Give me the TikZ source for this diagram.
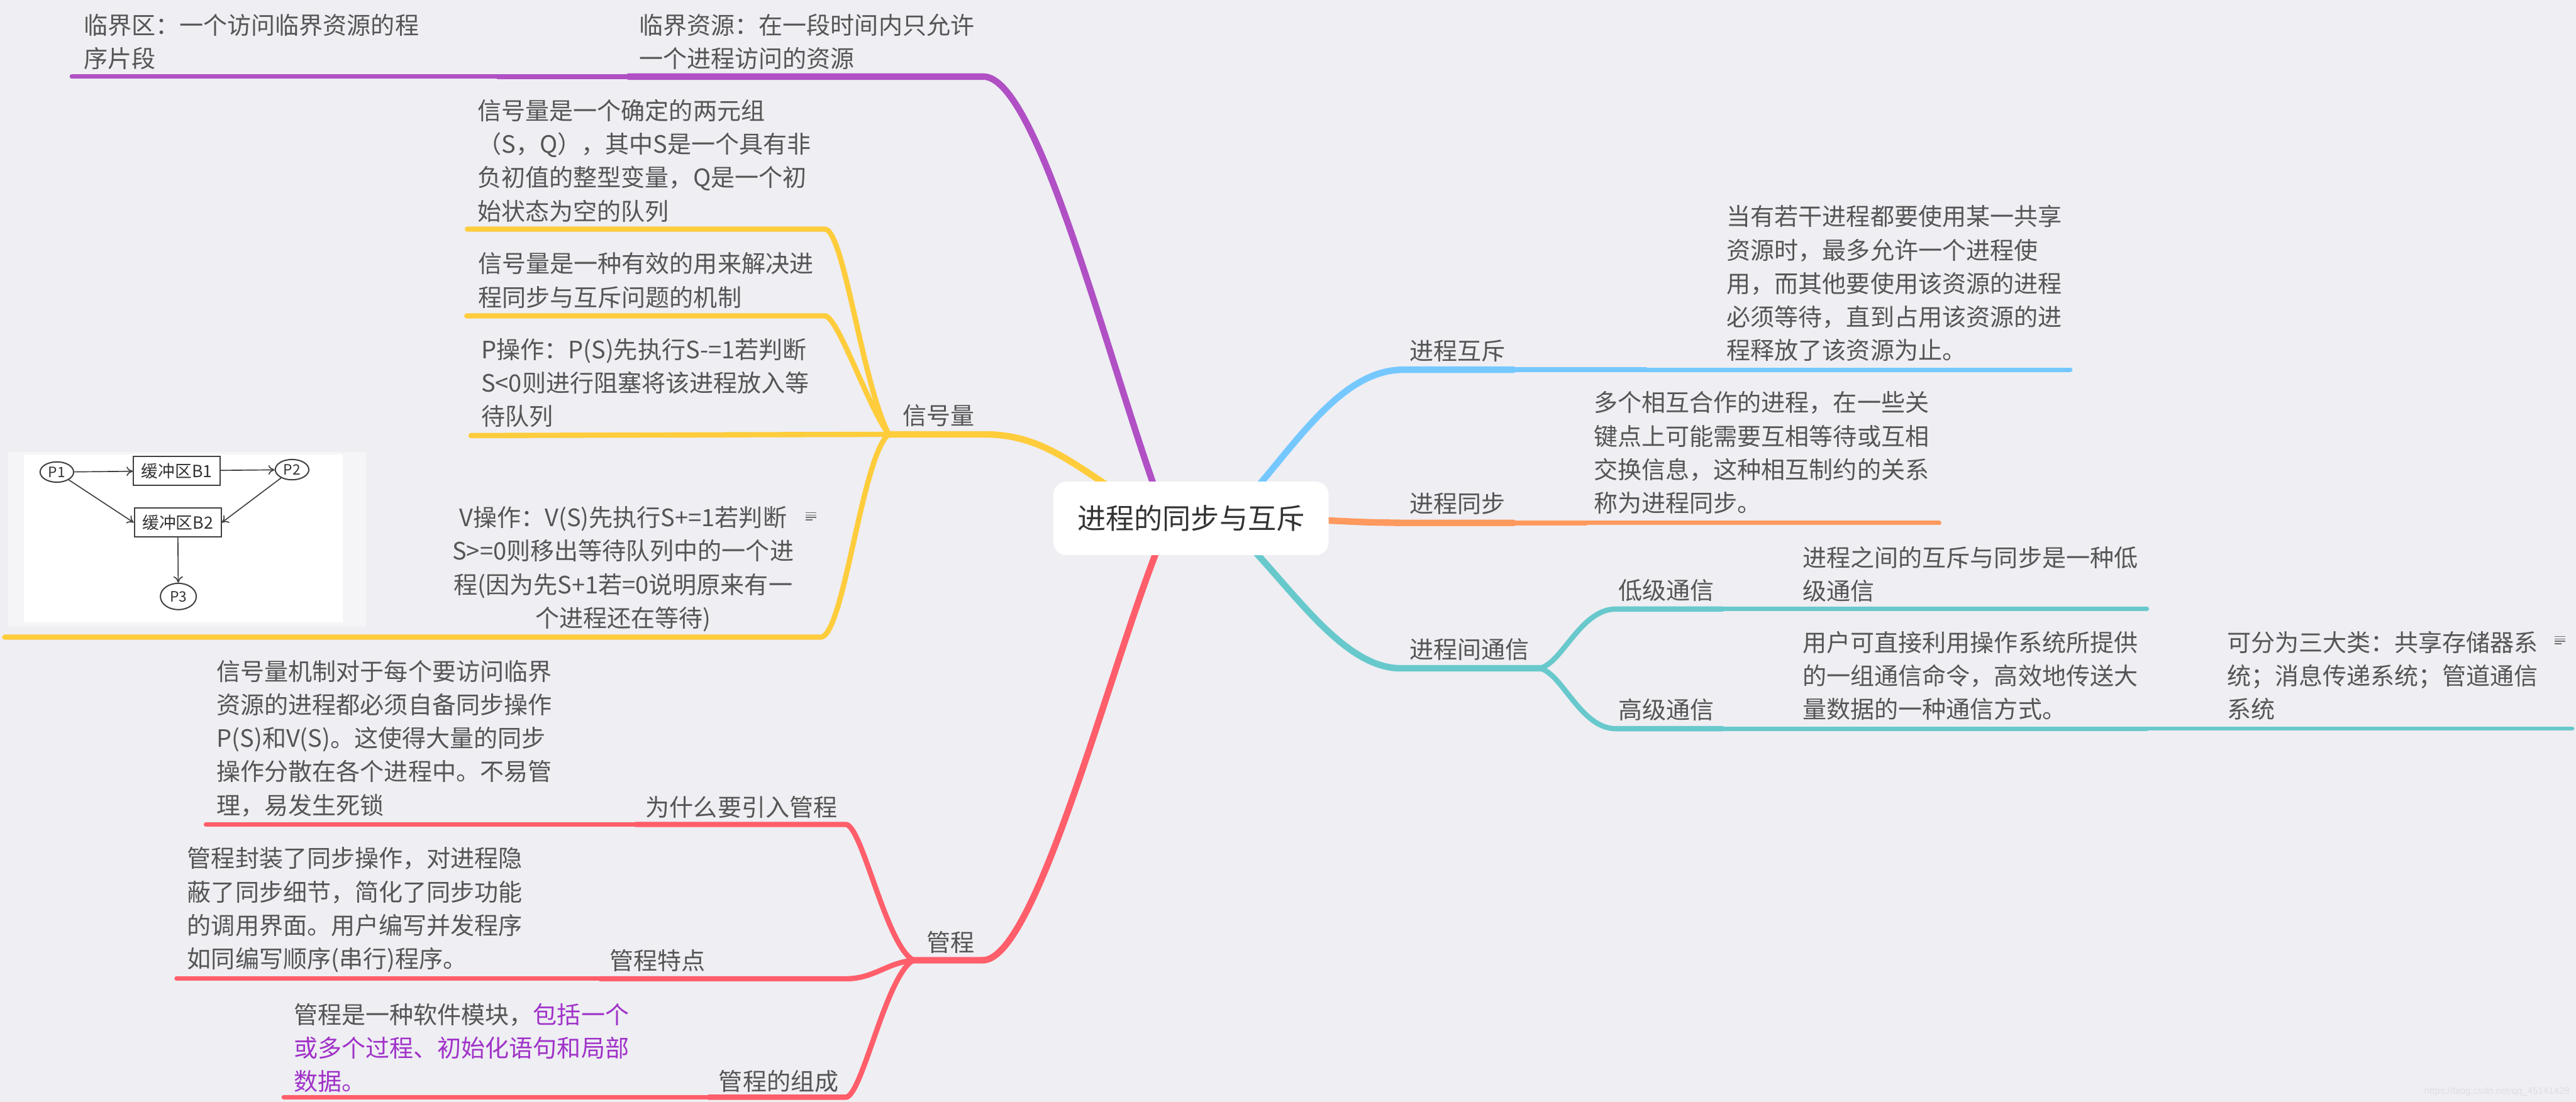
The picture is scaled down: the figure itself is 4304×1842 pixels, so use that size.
\documentclass[tikz,border=0pt]{standalone}
\usepackage{fontspec}
\setmainfont{Noto Sans CJK SC}
\newfontfamily\wmfont{Liberation Sans}
\usetikzlibrary{arrows.meta,shapes.geometric}
\definecolor{bgc}{RGB}{238,238,243}
\definecolor{cpur}{RGB}{176,80,196}
\definecolor{cyel}{RGB}{255,204,60}
\definecolor{cred}{RGB}{255,94,106}
\definecolor{cblu}{RGB}{117,200,255}
\definecolor{cora}{RGB}{255,153,94}
\definecolor{ctea}{RGB}{104,201,204}
\definecolor{ctxt}{RGB}{85,85,85}
\definecolor{croot}{RGB}{51,51,51}
\definecolor{cptx}{RGB}{160,50,200}
\definecolor{frm}{RGB}{245,245,247}
\definecolor{wmc}{RGB}{222,222,228}
\definecolor{notec}{RGB}{110,110,110}
\newcommand\mmfont{\fontsize{11.38pt}{15.93pt}\selectfont}
\tikzset{
  leaf/.style={anchor=base west, inner sep=0pt, outer sep=0pt, text=ctxt, font=\mmfont, align=left, text width=7cm},
  rootbox/.style={fill=white, rounded corners=0.22cm, minimum width=4.6cm, minimum height=1.23cm, inner sep=0pt, text=croot, font=\fontsize{13.5pt}{16pt}\selectfont},
  lvA/.style={line width=3.1pt, line cap=round},
  lvB/.style={line width=2.5pt, line cap=round},
  lvC/.style={line width=2.1pt, line cap=round},
  lvD/.style={line width=1.8pt, line cap=round},
  pnode/.style={ellipse, draw=black!75, line width=0.6pt, minimum width=0.56cm, minimum height=0.34cm, inner sep=0pt, text=black!80, font=\fontsize{6.8pt}{7pt}\selectfont},
  bnode/.style={rectangle, draw=black!75, line width=0.6pt, minimum width=1.45cm, minimum height=0.48cm, inner sep=0pt, text=black!80, font=\fontsize{8pt}{9pt}\selectfont},
  imgarrow/.style={draw=black!75, line width=0.5pt, -{To[length=3pt,width=4.5pt]}},
  notel/.style={notec, line width=0.45pt}
}
\begin{document}
\begin{tikzpicture}[x=0.1mm,y=-0.1mm]
\useasboundingbox (0,0) rectangle (4304,1842);
\fill[bgc] (0,0) rectangle (4304,1842);

% ---------- coordinates ----------
\coordinate (pA) at (1928,812);
\coordinate (pB) at (1643,128);
\coordinate (pC) at (1050,128);
\coordinate (pD) at (832,128);
\coordinate (pE) at (120,128);

\coordinate (yR) at (1860,818);
\coordinate (yB) at (1644,726);
\coordinate (yJ) at (1485,726);
\coordinate (yS1) at (1378,383);
\coordinate (yS1e) at (781,383);
\coordinate (yS2) at (1378,528);
\coordinate (yS2e) at (780,528);
\coordinate (yS3e) at (787,728);
\coordinate (yS4) at (1371,1065);
\coordinate (yS4e) at (8,1065);

\coordinate (rR) at (1935,915);
\coordinate (rB) at (1642,1605);
\coordinate (rJ) at (1526,1605);
\coordinate (rM1) at (1413,1378);
\coordinate (rM1m) at (1062,1378);
\coordinate (rM1e) at (344,1378);
\coordinate (rM2) at (1413,1636);
\coordinate (rM2m) at (1003,1636);
\coordinate (rM2e) at (295,1636);
\coordinate (rM3) at (1413,1834);
\coordinate (rM3m) at (1184,1834);
\coordinate (rM3e) at (474,1834);

\coordinate (bR) at (2100,815);
\coordinate (bB) at (2345,618);
\coordinate (bC) at (2529,618);
\coordinate (bD) at (2750,618);
\coordinate (bE) at (3459,618);

\coordinate (oR) at (2200,869);
\coordinate (oB) at (2345,874);
\coordinate (oC) at (2529,874);
\coordinate (oD) at (2650,874);
\coordinate (oE) at (3240,874);

\coordinate (tR) at (2090,915);
\coordinate (tB) at (2340,1117);
\coordinate (tJ) at (2572,1117);
\coordinate (tL) at (2700,1018);
\coordinate (tLm) at (2878,1018);
\coordinate (tLe) at (3587,1018);
\coordinate (tH) at (2700,1218);
\coordinate (tHm) at (2878,1218);
\coordinate (tHn) at (3587,1218);
\coordinate (tHe) at (4298,1218);

% ---------- purple ----------
\draw[cpur,lvA] (pA) .. controls (1840,560) and (1730,128) .. (pB) -- (pC);
\draw[cpur,lvB] (pC) -- (pD);
\draw[cpur,lvC] (pD) -- (pE);

% ---------- yellow ----------
\draw[cyel,lvA] (yR) .. controls (1780,765) and (1730,726) .. (yB) -- (yJ);
\draw[cyel,lvB] (yJ) .. controls (1440,640) and (1410,383) .. (yS1) -- (yS1e);
\draw[cyel,lvB] (yJ) .. controls (1450,680) and (1400,528) .. (yS2) -- (yS2e);
\draw[cyel,lvB] (yJ) -- (yS3e);
\draw[cyel,lvB] (yJ) .. controls (1440,760) and (1410,1065) .. (yS4) -- (yS4e);

% ---------- red ----------
\draw[cred,lvA] (rR) .. controls (1850,1130) and (1730,1605) .. (rB) -- (rJ);
\draw[cred,lvB] (rJ) .. controls (1480,1580) and (1440,1378) .. (rM1) -- (rM1m);
\draw[cred,lvC] (rM1m) -- (rM1e);
\draw[cred,lvB] (rJ) .. controls (1480,1610) and (1460,1636) .. (rM2) -- (rM2m);
\draw[cred,lvC] (rM2m) -- (rM2e);
\draw[cred,lvB] (rJ) .. controls (1480,1630) and (1440,1834) .. (rM3) -- (rM3m);
\draw[cred,lvC] (rM3m) -- (rM3e);

% ---------- blue ----------
\draw[cblu,lvA] (bR) .. controls (2180,720) and (2250,618) .. (bB) -- (bC);
\draw[cblu,lvB] (bC) -- (bD);
\draw[cblu,lvC] (bD) -- (bE);

% ---------- orange ----------
\draw[cora,lvA] (oR) .. controls (2280,873) .. (oB) -- (oC);
\draw[cora,lvB] (oC) -- (oD);
\draw[cora,lvC] (oD) -- (oE);

% ---------- teal ----------
\draw[ctea,lvA] (tR) .. controls (2170,1000) and (2250,1117) .. (tB) -- (tJ);
\draw[ctea,lvB] (tJ) .. controls (2610,1110) and (2640,1018) .. (tL) -- (tLm);
\draw[ctea,lvC] (tLm) -- (tLe);
\draw[ctea,lvB] (tJ) .. controls (2610,1124) and (2640,1218) .. (tH) -- (tHm);
\draw[ctea,lvC] (tHm) -- (tHn);
\draw[ctea,lvD] (tHn) -- (tHe);

% ---------- root ----------
\node[rootbox] (root) at (1990,866.5) {进程的同步与互斥};

% ---------- left texts ----------
\node[leaf] (tA) at (140,57) {临界区：一个访问临界资源的程\\序片段};
\node[leaf] (tB) at (1068,57) {临界资源：在一段时间内只允许\\一个进程访问的资源};

\node[leaf] (sA) at (798,200) {信号量是一个确定的两元组\\（S，Q），其中S是一个具有非\\负初值的整型变量，Q是一个初\\始状态为空的队列};
\node[leaf] (sB) at (799,456) {信号量是一种有效的用来解决进\\程同步与互斥问题的机制};
\node[leaf] (sC) at (804,599) {P操作：P(S)先执行S-=1若判断\\S<0则进行阻塞将该进程放入等\\待队列};
\node[leaf,anchor=base,align=center,text width=6.2cm] (sD) at (1041,880) {V操作：V(S)先执行S+=1若判断\\S>=0则移出等待队列中的一个进\\程(因为先S+1若=0说明原来有一\\个进程还在等待)};
\node[leaf] (sL) at (1508,710) {信号量};

\node[leaf] (mA) at (362,1137) {信号量机制对于每个要访问临界\\资源的进程都必须自备同步操作\\P(S)和V(S)。这使得大量的同步\\操作分散在各个进程中。不易管\\理，易发生死锁};
\node[leaf] (mAl) at (1079,1364) {为什么要引入管程};
\node[leaf] (mB) at (313,1450) {管程封装了同步操作，对进程隐\\蔽了同步细节，简化了同步功能\\的调用界面。用户编写并发程序\\如同编写顺序(串行)程序。};
\node[leaf] (mBl) at (1019,1621) {管程特点};
\node[leaf] (mC) at (491,1711) {管程是一种软件模块，{\color{cptx}包括一个\\或多个过程、初始化语句和局部\\数据。}};
\node[leaf] (mCl) at (1201,1823) {管程的组成};
\node[leaf] (mL) at (1548,1590) {管程};

% ---------- right texts ----------
\node[leaf] (rA) at (2355,602) {进程互斥};
\node[leaf] (rAx) at (2885,377) {当有若干进程都要使用某一共享\\资源时，最多允许一个进程使\\用，而其他要使用该资源的进程\\必须等待，直到占用该资源的进\\程释放了该资源为止。};
\node[leaf] (rB) at (2355,857) {进程同步};
\node[leaf] (rBx) at (2663,688) {多个相互合作的进程，在一些关\\键点上可能需要互相等待或互相\\交换信息，这种相互制约的关系\\称为进程同步。};
\node[leaf] (rC) at (2355,1101) {进程间通信};
\node[leaf] (rCa) at (2704,1002) {低级通信};
\node[leaf] (rCax) at (3012,947) {进程之间的互斥与同步是一种低\\级通信};
\node[leaf] (rCb) at (2704,1202) {高级通信};
\node[leaf] (rCbx) at (3012,1089) {用户可直接利用操作系统所提供\\的一组通信命令，高效地传送大\\量数据的一种通信方式。};
\node[leaf] (rCby) at (3721,1089) {可分为三大类：共享存储器系\\统；消息传递系统；管道通信\\系统};

% ---------- note icons ----------
\draw[notel] (1346,857) -- (1364,857) (1346,861) -- (1364,861) (1346,865) -- (1364,865) (1346,869) -- (1358,869);
\draw[notel] (4268,1064) -- (4286,1064) (4268,1068) -- (4286,1068) (4268,1072) -- (4286,1072) (4268,1076) -- (4280,1076);

% ---------- embedded picture ----------
\fill[frm] (14,755) rectangle (612,1048);
\fill[white] (40,760) rectangle (573,1040);
\node[pnode] (p1) at (95,789) {P1};
\node[bnode] (b1) at (295.5,787) {缓冲区B1};
\node[pnode] (p2) at (488,785) {P2};
\node[bnode] (b2) at (297,873.5) {缓冲区B2};
\node[pnode,minimum width=0.6cm,minimum height=0.44cm] (p3) at (298,997) {P3};
\draw[imgarrow] (p1) -- (b1);
\draw[imgarrow] (b1) -- (p2);
\draw[imgarrow] (p1) -- (b2.west);
\draw[imgarrow] (p2) -- (b2.east);
\draw[imgarrow] (b2) -- (p3);

% ---------- watermark ----------
\node[anchor=base east, inner sep=0pt, text=wmc, font=\wmfont\fontsize{4.5pt}{5pt}\selectfont] (wm) at (4294,1829) {https://blog.csdn.net/qq\_45141428};
\end{tikzpicture}
\end{document}
